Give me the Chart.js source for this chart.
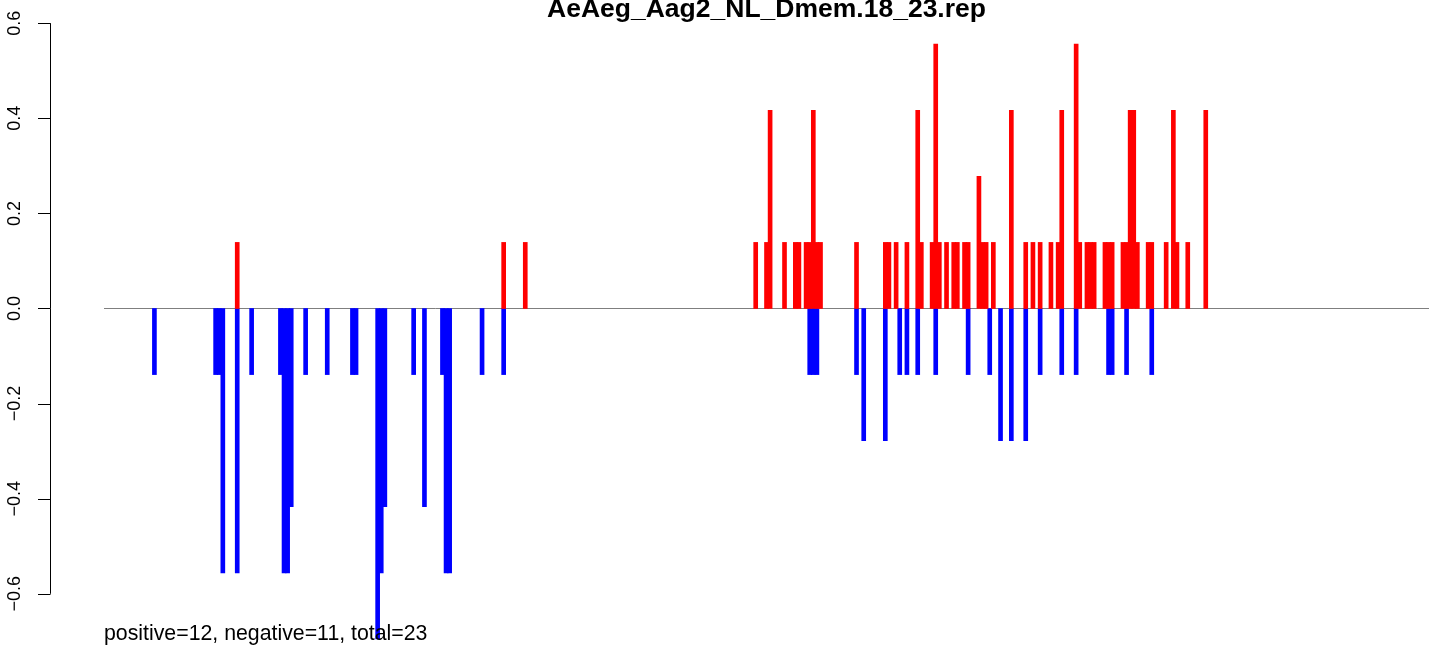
<!DOCTYPE html>
<html>
<head>
<meta charset="utf-8">
<script src="https://cdn.jsdelivr.net/npm/chart.js@4/dist/chart.umd.min.js"></script>
<style>
  body { margin: 0; background: #ffffff; }
  #wrap { width: 1429px; height: 647px; }
</style>
</head>
<body>
<div id="wrap"><canvas id="repchart" width="1429" height="647"></canvas></div>
<script>
// positions along the reference and the normalised read values
const plusPos = [37, 111, 117,
  181, 184, 185, 189, 192, 193, 195, 196, 197, 198, 199,
  209, 217, 218, 220, 223, 226, 227, 230, 231, 232, 234, 236, 237, 239, 240,
  243, 244, 245, 247, 252, 256, 258, 260, 263, 265, 266,
  270, 271, 273, 274, 275, 278, 279, 280, 283, 284, 285, 286, 287,
  290, 291, 295, 297, 298, 301, 306];
const plusVal = [0.139, 0.139, 0.139,
  0.139, 0.139, 0.417, 0.139, 0.139, 0.139, 0.139, 0.139, 0.417, 0.139, 0.139,
  0.139, 0.139, 0.139, 0.139, 0.139, 0.417, 0.139, 0.139, 0.556, 0.139, 0.139, 0.139, 0.139, 0.139, 0.139,
  0.278, 0.139, 0.139, 0.139, 0.417, 0.139, 0.139, 0.139, 0.139, 0.139, 0.417,
  0.556, 0.139, 0.139, 0.139, 0.139, 0.139, 0.139, 0.139, 0.139, 0.139, 0.417, 0.417, 0.139,
  0.139, 0.139, 0.139, 0.417, 0.139, 0.139, 0.417];

const minusPos = [14, 31, 32, 33, 37, 41, 49, 50, 51, 52, 56, 62,
  69, 70, 76, 77, 78, 86, 89, 94, 95, 96, 105, 111,
  196, 197, 198, 209, 211, 217, 221, 223, 226, 231, 240, 246,
  249, 252, 256, 260, 266, 270, 279, 280, 284, 291];
const minusVal = [-0.139, -0.139, -0.139, -0.556, -0.556, -0.139, -0.139, -0.556, -0.556, -0.417, -0.139, -0.139,
  -0.139, -0.139, -0.695, -0.556, -0.417, -0.139, -0.417, -0.139, -0.556, -0.556, -0.139, -0.139,
  -0.139, -0.139, -0.139, -0.139, -0.278, -0.278, -0.139, -0.139, -0.139, -0.139, -0.139, -0.139,
  -0.278, -0.278, -0.278, -0.139, -0.139, -0.139, -0.139, -0.139, -0.139, -0.139];

const yTicks = [-0.6, -0.4, -0.2, 0.0, 0.2, 0.4, 0.6];
const yTickLabels = ['\u22120.6', '\u22120.4', '\u22120.2', '0.0', '0.2', '0.4', '0.6'];

const chartTitle = 'AeAeg_Aag2_NL_Dmem.18_23.rep';
const footText = 'positive=12, negative=11, total=23';

function toPoints(pos, val) {
  return pos.map((p, i) => ({ x: p, y: val[i] }));
}

// R style axis, zero line and texts
const rStyle = {
  id: 'rStyle',
  beforeDatasetsDraw(chart) {
    const ctx = chart.ctx;
    const xs = chart.scales.x;
    const ys = chart.scales.y;
    const y0 = Math.round(ys.getPixelForValue(0)) + 0.5;
    ctx.save();
    ctx.strokeStyle = '#7f7f7f';
    ctx.lineWidth = 1;
    ctx.beginPath();
    ctx.moveTo(xs.getPixelForValue(0), y0);
    ctx.lineTo(chart.chartArea.right, y0);
    ctx.stroke();
    ctx.restore();
  },
  afterDraw(chart) {
    const ctx = chart.ctx;
    const ys = chart.scales.y;
    const axisX = chart.chartArea.left + 0.5;
    ctx.save();
    ctx.strokeStyle = '#000000';
    ctx.lineWidth = 1;
    ctx.beginPath();
    ctx.moveTo(axisX, ys.getPixelForValue(yTicks[0]));
    ctx.lineTo(axisX, ys.getPixelForValue(yTicks[yTicks.length - 1]));
    yTicks.forEach(v => {
      const py = Math.round(ys.getPixelForValue(v)) + 0.5;
      ctx.moveTo(axisX - 12.5, py);
      ctx.lineTo(axisX, py);
    });
    ctx.stroke();

    ctx.fillStyle = '#000000';
    ctx.font = '18px "Liberation Sans", Arial, sans-serif';
    ctx.textAlign = 'center';
    ctx.textBaseline = 'alphabetic';
    yTicks.forEach((v, i) => {
      ctx.save();
      ctx.translate(20, ys.getPixelForValue(v));
      ctx.rotate(-Math.PI / 2);
      ctx.fillText(yTickLabels[i], 0, 0);
      ctx.restore();
    });

    ctx.font = 'bold 26.5px "Liberation Sans", Arial, sans-serif';
    ctx.fillText(chartTitle, 766.5, 17);

    ctx.font = '21.3px "Liberation Sans", Arial, sans-serif';
    ctx.textAlign = 'left';
    ctx.fillText(footText, 104, 640);
    ctx.restore();
  }
};

const ctx = document.getElementById('repchart').getContext('2d');

const repchart = new Chart(ctx, {
  type: 'bar',
  data: {
    datasets: [
      {
        label: 'positive',
        data: toPoints(plusPos, plusVal),
        backgroundColor: '#ff0000',
        borderWidth: 0,
        barThickness: 4,
        grouped: false
      },
      {
        label: 'negative',
        data: toPoints(minusPos, minusVal),
        backgroundColor: '#0000ff',
        borderWidth: 0,
        barThickness: 4,
        grouped: false
      }
    ]
  },
  options: {
    responsive: false,
    animation: false,
    layout: { padding: { left: 50, right: 0, top: 0, bottom: 0 } },
    plugins: {
      legend: { display: false },
      tooltip: { enabled: false },
      title: { display: false }
    },
    scales: {
      x: {
        type: 'linear',
        min: -15,
        max: 368,
        offset: false,
        display: false
      },
      y: {
        type: 'linear',
        min: -0.7119,
        max: 0.6488,
        display: false,
        afterBuildTicks: (scale) => {
          scale.ticks = yTicks.map(v => ({ value: v }));
        }
      }
    }
  },
  plugins: [rStyle]
});
</script>
</body>
</html>
